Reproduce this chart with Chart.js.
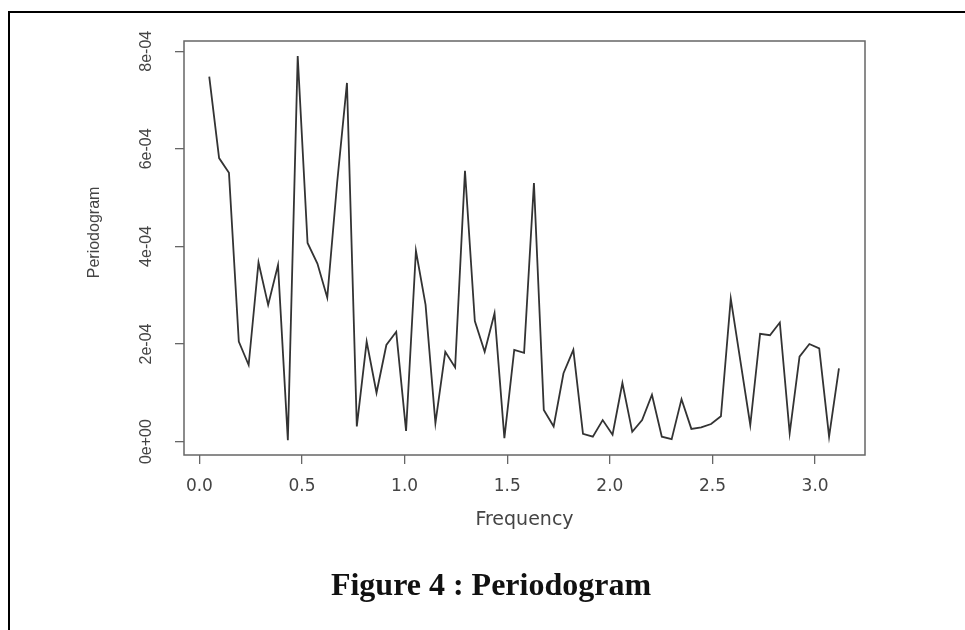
<!DOCTYPE html>
<html>
<head>
<meta charset="utf-8">
<title>Periodogram</title>
<script src="https://cdn.jsdelivr.net/npm/chart.js@4/dist/chart.umd.min.js"></script>
<style>
  html, body { margin: 0; padding: 0; background: #fff; }
  #wrap { position: relative; width: 965px; height: 630px; overflow: hidden; }
  #frame {
    position: absolute; left: 8px; top: 11px; width: 970px; height: 640px;
    border-top: 2px solid #000; border-left: 2px solid #000;
  }
  #grafica { position: absolute; left: 0; top: 0; }
  #caption {
    position: absolute; left: 291px; width: 400px; top: 568px;
    text-align: center; font: bold 32px/32px "Liberation Serif", "Times New Roman", serif;
    color: #111;
  }
</style>
</head>
<body>
<div id="wrap">
  <div id="frame"></div>
  <canvas id="grafica" width="965" height="630"></canvas>
  <div id="caption">Figure 4 : Periodogram</div>
</div>

<script>
// frecuencias (eje x)
const frecuencias = [
  0.048, 0.096, 0.144, 0.192, 0.240, 0.288, 0.335, 0.383, 0.431, 0.479,
  0.527, 0.575, 0.623, 0.671, 0.719, 0.767, 0.815, 0.863, 0.911, 0.959,
  1.007, 1.055, 1.102, 1.150, 1.198, 1.246, 1.294, 1.342, 1.390, 1.438,
  1.486, 1.534, 1.582, 1.630, 1.678, 1.726, 1.774, 1.822, 1.869, 1.917,
  1.965, 2.013, 2.061, 2.109, 2.157, 2.205, 2.253, 2.301, 2.349, 2.397,
  2.445, 2.493, 2.541, 2.589, 2.636, 2.684, 2.732, 2.780, 2.828, 2.876,
  2.924, 2.972, 3.020, 3.068, 3.116
];

// periodograma
const periodograma = [
  7.48e-4, 5.81e-4, 5.51e-4, 2.05e-4, 1.57e-4, 3.67e-4, 2.80e-4, 3.62e-4, 0.03e-4, 7.90e-4,
  4.07e-4, 3.65e-4, 2.95e-4, 5.30e-4, 7.35e-4, 0.31e-4, 2.05e-4, 1.00e-4, 1.98e-4, 2.25e-4,
  0.22e-4, 3.91e-4, 2.80e-4, 0.38e-4, 1.84e-4, 1.52e-4, 5.55e-4, 2.47e-4, 1.84e-4, 2.63e-4,
  0.07e-4, 1.88e-4, 1.82e-4, 5.30e-4, 0.65e-4, 0.31e-4, 1.40e-4, 1.88e-4, 0.16e-4, 0.10e-4,
  0.44e-4, 0.14e-4, 1.20e-4, 0.20e-4, 0.44e-4, 0.96e-4, 0.10e-4, 0.05e-4, 0.87e-4, 0.26e-4,
  0.29e-4, 0.36e-4, 0.52e-4, 2.93e-4, 1.65e-4, 0.34e-4, 2.21e-4, 2.18e-4, 2.44e-4, 0.17e-4,
  1.74e-4, 2.00e-4, 1.91e-4, 0.10e-4, 1.50e-4
];

// marcas de los ejes
const xTicks = [0, 0.5, 1.0, 1.5, 2.0, 2.5, 3.0];
const xTickLabels = ["0.0", "0.5", "1.0", "1.5", "2.0", "2.5", "3.0"];
const yTicks = [0, 2e-4, 4e-4, 6e-4, 8e-4];
const yTickLabels = ["0e+00", "2e-04", "4e-04", "6e-04", "8e-04"];

const puntos = frecuencias.map((f, i) => ({ x: f, y: periodograma[i] }));

// caja alrededor del area del grafico (estilo R)
const caja = {
  id: "caja",
  afterDraw(chart) {
    const { ctx, chartArea: a } = chart;
    ctx.save();
    ctx.strokeStyle = "#666";
    ctx.lineWidth = 1.5;
    ctx.strokeRect(a.left, a.top, a.right - a.left, a.bottom - a.top);
    ctx.restore();
  }
};

const ctx = document.getElementById("grafica").getContext("2d");

const chart = new Chart(ctx, {
  type: "line",
  data: {
    datasets: [{
      label: "Periodogram",
      data: puntos,
      borderColor: "#333",
      borderWidth: 1.8,
      pointRadius: 0,
      tension: 0,
      fill: false
    }]
  },
  options: {
    responsive: false,
    animation: false,
    devicePixelRatio: 1,
    layout: { padding: { left: 85, right: 100, top: 41, bottom: 98.6 } },
    plugins: {
      legend: { display: false },
      tooltip: { enabled: false }
    },
    scales: {
      x: {
        type: "linear",
        min: -0.075,
        max: 3.243,
        afterBuildTicks: (s) => { s.ticks = xTicks.map(v => ({ value: v })); },
        afterFit: (s) => { s.height = 76.4; },
        border: { display: false },
        grid: {
          display: true, drawOnChartArea: false, drawTicks: true,
          tickLength: 9, color: "#666", lineWidth: 1.3
        },
        ticks: {
          padding: 12.8,
          color: "#444",
          maxRotation: 0,
          font: { family: "DejaVu Sans", size: 17 },
          callback: (v, i) => xTickLabels[i]
        },
        title: {
          display: true,
          text: "Frequency",
          color: "#444",
          font: { family: "DejaVu Sans", size: 19 },
          padding: { top: 11.4, bottom: 0 }
        }
      },
      y: {
        type: "linear",
        min: -2.75e-5,
        max: 8.21e-4,
        afterBuildTicks: (s) => { s.ticks = yTicks.map(v => ({ value: v })); },
        afterFit: (s) => { s.width = 99; },
        border: { display: false },
        grid: {
          display: true, drawOnChartArea: false, drawTicks: true,
          tickLength: 9, color: "#666", lineWidth: 1.3
        },
        ticks: {
          padding: 5.5,
          color: "#444",
          minRotation: 90,
          maxRotation: 90,
          crossAlign: "center",
          font: { family: "Liberation Sans", size: 16 },
          callback: (v, i) => yTickLabels[i]
        },
        title: {
          display: true,
          // espacios delante para subir un poco el titulo, como en R
          text: "\u00a0\u00a0\u00a0\u00a0\u00a0\u00a0\u00a0Periodogram",
          color: "#444",
          font: { family: "Liberation Sans", size: 16 },
          padding: { top: 0, bottom: 43.2 }
        }
      }
    }
  },
  plugins: [caja]
});
</script>
</body>
</html>
